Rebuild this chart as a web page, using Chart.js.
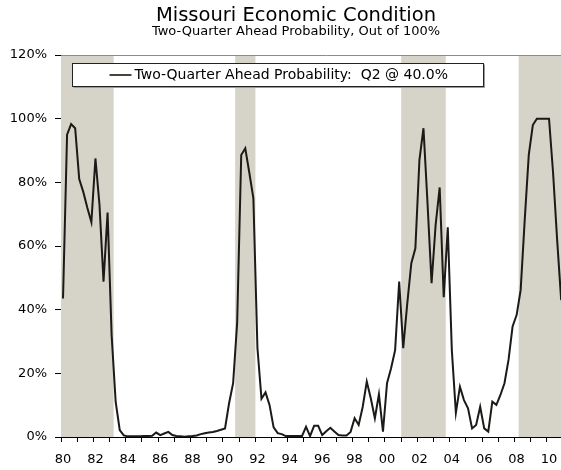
<!DOCTYPE html>
<html><head><meta charset="utf-8">
<script src="https://cdn.jsdelivr.net/npm/chart.js@4"></script>
<style>
html,body{margin:0;padding:0;background:#fff;overflow:hidden;width:561px;height:470px;}
#wrap{width:592px;height:470px;position:relative;}
</style></head><body>
<div id="wrap"><canvas id="c" width="592" height="470"></canvas></div>
<script>
// Quarterly series, 1980Q1 .. 2010Q4 (percent)
const startYear = 1980;
const probability = [
  43.5, 95.0, 98.3, 97.0,
  81.0, 77.0, 72.0, 67.5,
  87.5, 73.0, 48.8, 70.5,
  32.0, 11.0, 2.2, 0.5,
  0.2, 0.2, 0.2, 0.2,
  0.3, 0.3, 0.4, 1.4,
  0.6, 1.1, 1.6, 0.6,
  0.3, 0.2, 0.1, 0.2,
  0.3, 0.5, 0.9, 1.2,
  1.4, 1.6, 1.9, 2.3,
  2.7, 10.6, 16.9, 36.0,
  88.6, 90.7, 83.0, 75.0,
  28.0, 12.0, 14.0, 10.0,
  3.0, 1.2, 0.9, 0.3,
  0.3, 0.3, 0.3, 0.3,
  3.2, 0.3, 3.5, 3.5,
  0.6, 1.8, 2.9, 1.7,
  0.6, 0.5, 0.5, 1.6,
  5.9, 3.8, 9.5, 17.4,
  12.1, 5.9, 13.4, 1.7,
  16.9, 21.6, 27.3, 48.8,
  27.9, 42.0, 54.6, 59.3,
  87.0, 97.0, 73.4, 48.3,
  66.6, 78.4, 43.9, 65.9,
  27.3, 7.6, 15.8, 11.6,
  9.0, 2.7, 3.8, 9.5,
  2.7, 1.7, 11.1, 10.1,
  13.2, 16.9, 24.2, 34.7,
  38.3, 46.2, 68.2, 88.6,
  98.0, 100, 100, 100,
  100, 83.0, 62.0, 43.0
];
// Recession shading (decimal years: start of first quarter, end of last quarter; null = to the edge)
const recessionStart = [1980.0, 1990.75, 2001.0, 2008.25];
const recessionEnd   = [1983.25, 1992.0, 2003.75, null];
const yTickValues = [0, 20, 40, 60, 80, 100, 120];
const seriesLabel = 'Two-Quarter Ahead Probability:  Q2 @ 40.0%';
const titleText = 'Missouri Economic Condition';
const subtitleText = 'Two-Quarter Ahead Probability, Out of 100%';

const points = probability.map((v, i) => ({ x: startYear + i / 4 + 0.125, y: v }));

const FONT = 'DejaVu Sans';
const LINE = '#1c1a17';
const BAND = '#d6d3c8';

const bandsPlugin = {
  id: 'bands',
  beforeDatasetsDraw(chart) {
    const { ctx, chartArea, scales } = chart;
    const xs = scales.x, ys = scales.y;
    ctx.save();
    ctx.fillStyle = BAND;
    for (let k = 0; k < recessionStart.length; k++) {
      const x0 = xs.getPixelForValue(recessionStart[k]);
      const x1 = recessionEnd[k] === null ? chartArea.right : xs.getPixelForValue(recessionEnd[k]);
      const yTop = ys.getPixelForValue(120), yBot = ys.getPixelForValue(0);
      ctx.fillRect(x0, yTop, x1 - x0, yBot - yTop);
    }
    // plot-area top border
    ctx.strokeStyle = '#8a8a8a';
    ctx.lineWidth = 1;
    ctx.beginPath();
    ctx.moveTo(chartArea.left, Math.round(chartArea.top) + 0.5);
    ctx.lineTo(chartArea.right, Math.round(chartArea.top) + 0.5);
    ctx.stroke();
    ctx.restore();
  }
};

const legendPlugin = {
  id: 'legendBox',
  afterDatasetsDraw(chart) {
    const { ctx, chartArea } = chart;
    const ds = chart.data.datasets[0];
    ctx.save();
    ctx.font = '14px "' + FONT + '"';
    const tw = ctx.measureText(ds.label).width;
    const bx = Math.round(chartArea.left + 11) + 0.5;
    const by = Math.round(chartArea.top + 8) + 0.5;
    const bh = 23;
    const textX = bx + 62;
    const bw = Math.round(textX + tw + 36 - bx);
    // shadow
    ctx.strokeStyle = '#9a9a9a';
    ctx.lineWidth = 1;
    ctx.beginPath();
    ctx.moveTo(bx + 1, by + bh + 1);
    ctx.lineTo(bx + bw + 1, by + bh + 1);
    ctx.lineTo(bx + bw + 1, by + 1);
    ctx.stroke();
    ctx.fillStyle = '#fff';
    ctx.fillRect(bx, by, bw, bh);
    ctx.strokeStyle = '#222';
    ctx.strokeRect(bx, by, bw, bh);
    const cy = by + bh / 2;
    ctx.strokeStyle = '#4a433d';
    ctx.lineWidth = 2;
    ctx.beginPath();
    ctx.moveTo(bx + 37, cy);
    ctx.lineTo(bx + 59, cy);
    ctx.stroke();
    ctx.fillStyle = '#000';
    ctx.textBaseline = 'middle';
    ctx.textAlign = 'left';
    ctx.fillText(ds.label, textX, cy + 0.5);
    ctx.restore();
  }
};

new Chart(document.getElementById('c'), {
  type: 'line',
  data: {
    datasets: [{
      label: seriesLabel,
      data: points,
      borderColor: LINE,
      backgroundColor: LINE,
      borderWidth: 2,
      pointRadius: 0,
      tension: 0,
      fill: false
    }]
  },
  options: {
    responsive: false,
    devicePixelRatio: 1,
    animation: false,
    layout: { padding: { left: 0, right: 0, top: 0, bottom: 0 } },
    plugins: {
      legend: { display: false },
      tooltip: { enabled: false },
      title: {
        display: true, text: titleText, color: '#000',
        font: { family: FONT, size: 19.5, weight: 'normal', lineHeight: 0.9 },
        padding: { top: 7, bottom: 0 }
      },
      subtitle: {
        display: true, text: subtitleText, color: '#000',
        font: { family: FONT, size: 13, weight: 'normal', lineHeight: 1 },
        padding: { top: 0.55, bottom: 16.9 }
      }
    },
    scales: {
      x: {
        type: 'linear',
        min: 1980,
        max: 1980 + 531 / 16.2,
        position: 'bottom',
        afterFit: s => { s.height = 33; s.paddingLeft = 0; s.paddingRight = 0; },
        ticks: {
          stepSize: 1, includeBounds: false, autoSkip: false, maxRotation: 0,
          labelOffset: 2, padding: 10, color: '#000',
          font: { family: FONT, size: 13 },
          callback: v => (Number.isInteger(v) && v % 2 === 0) ? String(v % 100).padStart(2, '0') : ''
        },
        grid: { drawOnChartArea: false, tickLength: 5, color: '#000', lineWidth: 1 },
        border: { color: '#000', width: 1 }
      },
      y: {
        min: 0, max: 120,
        afterFit: s => { s.width = 61; },
        afterBuildTicks: s => { s.ticks = yTickValues.map(v => ({ value: v })); },
        ticks: {
          color: '#000', padding: 8,
          font: { family: FONT, size: 13 },
          callback: v => v + '%'
        },
        grid: { drawOnChartArea: false, tickLength: 6, color: '#000', lineWidth: 1 },
        border: { color: '#000', width: 1 }
      }
    }
  },
  plugins: [bandsPlugin, legendPlugin]
});
</script>
</body></html>
